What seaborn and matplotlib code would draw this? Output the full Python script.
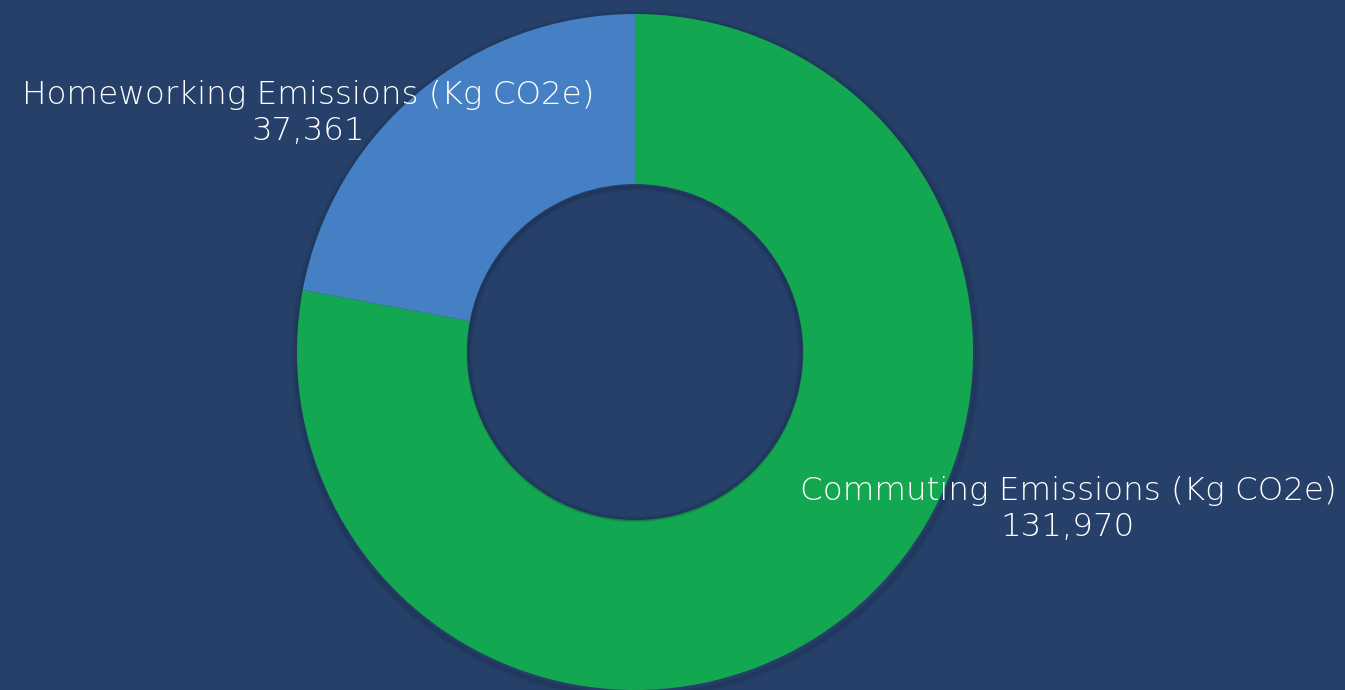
import matplotlib
matplotlib.use("Agg")
import matplotlib.pyplot as plt
from matplotlib.patches import Circle
import seaborn as sns

categories = ["Commuting Emissions (Kg CO2e)", "Homeworking Emissions (Kg CO2e)"]
values = [131970, 37361]
colors = ["#14A751", "#4480C3"]
bg = "#264069"

sns.set_theme(style="white")
plt.rcParams['font.family'] = ['DejaVu Sans']

fig = plt.figure(figsize=(13.45, 6.9), dpi=100, facecolor=bg)
ax = fig.add_axes([0, 0, 1, 1])
ax.set_facecolor(bg)

R = 338
W = 170
# soft shadow under the ring
for i in range(6):
    ax.add_patch(Circle((1, -3), R + 1 + i, facecolor="none", edgecolor="#0e1c33",
                        linewidth=2, alpha=0.10 - 0.015 * i, zorder=0))

wedges, _ = ax.pie(values, colors=colors, startangle=90, counterclock=False,
                   radius=R, center=(0, 0),
                   wedgeprops=dict(width=W, linewidth=0, antialiased=True))

# soft inner shadow in the hole
r_in = R - W
for i in range(5):
    ax.add_patch(Circle((0, -1.5), r_in - 0.5 - i, facecolor="none", edgecolor="#0e1c33",
                        linewidth=1.5, alpha=0.16 - 0.03 * i, zorder=5))

ax.set_xlim(-635, 710)
ax.set_ylim(-338, 352)
ax.set_aspect("equal")
ax.axis("off")

label_pos = [(433, -157), (-327, 239)]
for (x, y), cat, v in zip(label_pos, categories, values):
    ax.text(x, y, f"{cat}\n{v:,}", ha="center", va="center", color="white",
            fontsize=23.4, fontweight="light", linespacing=1.24, zorder=10)

fig.savefig("out.png", dpi=100, facecolor=bg)
